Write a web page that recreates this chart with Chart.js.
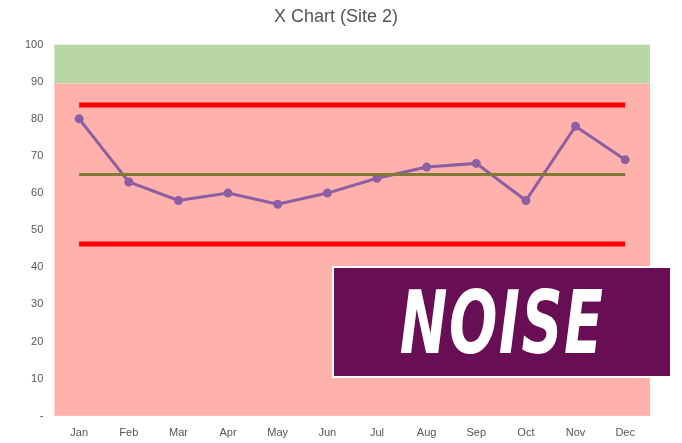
<!DOCTYPE html>
<html><head><meta charset="utf-8">
<script src="https://cdn.jsdelivr.net/npm/chart.js@4"></script>
<style>
html,body{margin:0;padding:0;background:#fff;}
#wrap{position:relative;width:682px;height:443px;}
#noise{position:absolute;left:332px;top:266px;width:336px;height:108px;background:#680e54;border:2px solid #fff;
display:flex;align-items:center;justify-content:center;overflow:hidden;}
#noise span{color:#fff;font-family:"DejaVu Sans Condensed","DejaVu Sans";font-weight:bold;font-style:italic;font-size:88px;
display:inline-block;transform:scaleX(0.72);letter-spacing:2px;}
</style></head><body>
<div id="wrap"><canvas id="c" width="682" height="443"></canvas><div id="noise"><span>NOISE</span></div></div>
<script>
const categories=["Jan","Feb","Mar","Apr","May","Jun","Jul","Aug","Sep","Oct","Nov","Dec"];
const values=[80,63,58,60,57,60,64,67,68,58,78,69];
const mean=65, ucl=83.7, lcl=46.3, greenFrom=89.5;
const bands={id:'bands',beforeDatasetsDraw(ch){const {ctx,chartArea:a,scales:{y}}=ch;
 const g=y.getPixelForValue(greenFrom);
 ctx.save();ctx.fillStyle='#b9d7a5';ctx.fillRect(a.left,a.top,a.width,g-a.top);
 ctx.fillStyle='#ffb1ab';ctx.fillRect(a.left,g,a.width,a.bottom-g);ctx.restore();}};
const flat=v=>categories.map(()=>v);
new Chart(document.getElementById('c'),{type:'line',
data:{labels:categories,datasets:[
 {data:flat(ucl),borderColor:'#ff0000',borderWidth:5,pointRadius:0},
 {data:flat(lcl),borderColor:'#ff0000',borderWidth:5,pointRadius:0},
 {data:flat(mean),borderColor:'#7f7a35',borderWidth:3,pointRadius:0},
 {data:values,borderColor:'#8e5ea2',backgroundColor:'#8e5ea2',borderWidth:3,pointRadius:3,tension:0}
]},
plugins:[bands],
options:{responsive:false,animation:false,
 layout:{padding:{left:22,right:32,top:0,bottom:0}},
 plugins:{legend:{display:false},tooltip:{enabled:false},
  title:{display:true,text:'X Chart (Site 2)',color:'#555',font:{family:'Liberation Sans',size:18,weight:'normal'},padding:{top:6,bottom:17}}},
 scales:{x:{offset:true,grid:{display:false},border:{display:false},ticks:{color:'#555',font:{family:'Liberation Sans',size:11}}},
  y:{min:0,max:100,grid:{display:false},border:{display:false},
   ticks:{stepSize:10,color:'#555',font:{family:'Liberation Sans',size:11},callback:v=>v===0?'-':v}}}}});
</script></body></html>
